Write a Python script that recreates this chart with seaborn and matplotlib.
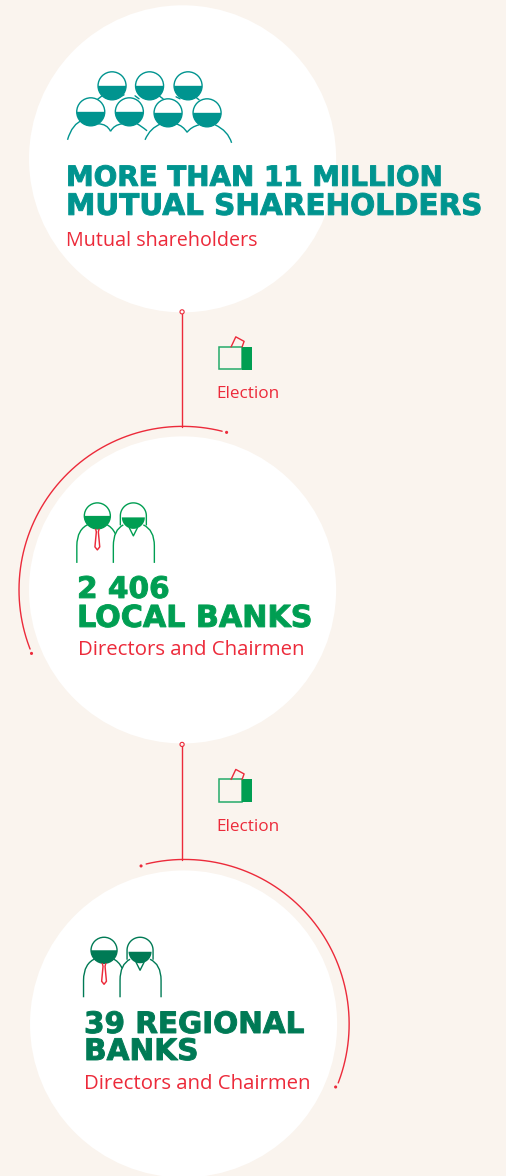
import numpy as np
import pandas as pd
import seaborn as sns
import matplotlib
matplotlib.use("Agg")
import matplotlib.pyplot as plt
import matplotlib.patheffects as pe
from matplotlib.patches import Circle, PathPatch, Rectangle
from matplotlib.path import Path

# ---------- content ----------
heading_lines = [["MORE THAN 11 MILLION", "MUTUAL SHAREHOLDERS"],
                 ["2 406", "LOCAL BANKS"],
                 ["39 REGIONAL", "BANKS"]]
sub_labels = ["Mutual shareholders", "Directors and Chairmen", "Directors and Chairmen"]
link_label = "Election"

BG = "#FAF4EE"
TEAL = "#00948F"
GREEN = "#009E52"
DARK = "#007A55"
RED = "#EC2A3A"
W, H = 506, 1176

sns.set_theme(style="white", rc={"figure.facecolor": BG, "axes.facecolor": BG})
fig = plt.figure(figsize=((W + 0.2) / 100, (H + 0.2) / 100), dpi=100)
ax = fig.add_axes([0, 0, 1, 1])
ax.set_xlim(0, W)
ax.set_ylim(H, 0)
ax.axis("off")

LW = 1.0
HEAD_FONT = dict(family="DejaVu Sans", fontweight="bold", va="baseline", ha="left")
SUB_FONT = dict(family="Open Sans", va="baseline", ha="left", color=RED)


def curve(points, color, lw=LW, z=4):
    verts = [points[0]]
    codes = [Path.MOVETO]
    for c, p in zip(points[1::2], points[2::2]):
        verts += [c, p]
        codes += [Path.CURVE3, Path.CURVE3]
    ax.add_patch(PathPatch(Path(verts, codes), fc="none", ec=color, lw=lw, zorder=z))


def head(cx, cy, r, color):
    ax.add_patch(Circle((cx, cy), r, fc="white", ec=color, lw=LW, zorder=5))
    th = np.radians(np.linspace(0, 180, 40))
    ax.fill(cx + r * np.cos(th), cy + r * np.sin(th), color=color, lw=0, zorder=6)


def crowd(color):
    for cx in (112, 149.5, 188):
        head(cx, 86, 14, color)
    curve([(67.5, 140), (72, 124), (83, 120)], color)
    curve([(98, 124), (107, 124), (110.5, 131.5)], color)
    curve([(110.5, 131.5), (114, 125), (122, 124)], color)
    curve([(137, 124), (141, 126), (147, 131)], color)
    curve([(145, 140), (150, 128), (161, 124)], color)
    curve([(176, 124), (183, 126), (187, 132.5)], color)
    curve([(187, 132.5), (191, 127), (199, 125)], color)
    curve([(215, 125), (228, 131), (231.5, 143)], color)
    for seg in [((97, 100), (102, 96)), ((120, 97), (124, 95)), ((135, 96), (139, 99)),
                ((159, 96), (163, 99)), ((176, 97), (180, 99)), ((194, 96), (199, 100))]:
        ax.plot(*zip(*seg), color=color, lw=LW, zorder=4)
    for cx, cy in [(90.7, 112), (129.3, 112), (168, 113), (207, 113)]:
        head(cx, cy, 14, color)


def pair(ox, oy, color):
    def P(dx, dy):
        return (ox + dx, oy + dy)
    curve([P(-20.5, 47), P(-20.5, 35), P(-20.5, 30), P(-20.5, 13), P(-8, 8)], color)
    curve([P(8, 8), P(15, 11), P(18, 18)], color)
    tie = [P(-2, 12), P(2, 12), P(1, 16), P(2.4, 31), P(0, 34), P(-2.4, 31), P(-1, 16), P(-2, 12)]
    ax.plot(*zip(*tie), color=RED, lw=1.05, zorder=6)
    head(ox, oy, 13, color)
    hx = ox + 36
    th = np.radians(np.linspace(180, 360, 40))
    ax.plot(np.r_[hx - 13, hx + 13 * np.cos(th), hx + 13],
            np.r_[oy + 9, oy + 13 * np.sin(th), oy + 9], color=color, lw=LW, zorder=4)
    th = np.radians(np.linspace(0, 180, 40))
    ax.fill(hx + 11.5 * np.cos(th), oy + 1.5 + 11.5 * np.sin(th), color=color, lw=0, zorder=6)
    curve([P(16, 47), P(16, 35), P(16, 30), P(16, 14), P(26, 9)], color, z=5)
    curve([P(46, 9), P(57, 14), P(57, 30), P(57, 35), P(57, 47)], color, z=5)
    ax.plot(*zip(P(32, 12), P(36, 20), P(40, 12)), color=color, lw=LW, zorder=5)


def ballot(top):
    ax.add_patch(Rectangle((218.5, top), 23, 22.5, fc="none", ec=GREEN, lw=1.1, alpha=0.85, zorder=4))
    ax.add_patch(Rectangle((241.5, top), 10.5, 23, fc=GREEN, ec="none", zorder=4))
    xs = [231, 235.7, 244, 242]
    ys = [top, top - 10, top - 5.5, top]
    ax.plot(xs, ys, color=RED, lw=LW, zorder=4)


# ---------- big white discs ----------
for c in [(182.5, 159), (182.5, 590), (183.5, 1024)]:
    ax.add_patch(Circle(c, 153.5, fc="white", ec="none", zorder=1))


# ---------- election arcs ----------
def arc(cx, cy, r, a0, a1):
    th = np.radians(np.linspace(a0, a1, 200))
    return cx + r * np.cos(th), cy + r * np.sin(th)


for cx, cy, r, a0, a1 in [(182.5, 590, 163.5, 284.0, 158.8), (184.5, 1024, 164.5, 256.5, 381.0)]:
    x, y = arc(cx, cy, r, a0, a1)
    ax.plot(x, y, color=RED, lw=LW, zorder=3)

# ---------- connectors and dots through seaborn ----------
links = pd.DataFrame({"x": [182, 182, 182, 182],
                      "y": [314, 427, 746, 860],
                      "link": ["a", "a", "b", "b"]})
sns.lineplot(data=links, x="x", y="y", units="link", estimator=None, sort=False,
             color=RED, lw=LW, ax=ax, legend=False, zorder=3)
ends = pd.DataFrame({"x": [226.5, 31.5, 141, 335.5], "y": [432.5, 653.5, 866, 1087]})
sns.scatterplot(data=ends, x="x", y="y", s=5, color=RED, edgecolor="none", ax=ax, legend=False, zorder=3)
knobs = pd.DataFrame({"x": [182, 182], "y": [312, 744.5]})
sns.scatterplot(data=knobs, x="x", y="y", s=9, facecolor="none", edgecolor=RED, linewidth=0.8,
                ax=ax, legend=False, zorder=3)
ax.set_xlim(0, W)
ax.set_ylim(H, 0)
ax.axis("off")

# ---------- icons ----------
crowd(TEAL)
pair(97.3, 516, GREEN)
pair(104, 950.3, DARK)
ballot(347)
ballot(779.5)

# ---------- text ----------
placements = [(66, 186, 20.0, TEAL), (66, 215, 21.2, TEAL),
              (77, 598, 21.3, GREEN), (77, 627, 21.7, GREEN),
              (84, 1033, 21.2, DARK), (84, 1060, 21.3, DARK)]
flat_lines = [t for pair_lines in heading_lines for t in pair_lines]
for line, (x, b, fs, col) in zip(flat_lines, placements):
    ax.text(x, b, line, color=col, fontsize=fs, zorder=7,
            path_effects=[pe.Stroke(linewidth=0.7, foreground=col)], **HEAD_FONT)
for s, x, b, fs in zip(sub_labels, [66, 78, 84], [246, 655, 1089], [14.25, 14.65, 14.65]):
    ax.text(x, b, s, fontsize=fs, zorder=7, **SUB_FONT)
for b in (398, 831):
    ax.text(216.5, b, link_label, fontsize=12.3, zorder=7, **SUB_FONT)

fig.savefig("out.png", dpi=100, facecolor=BG)
